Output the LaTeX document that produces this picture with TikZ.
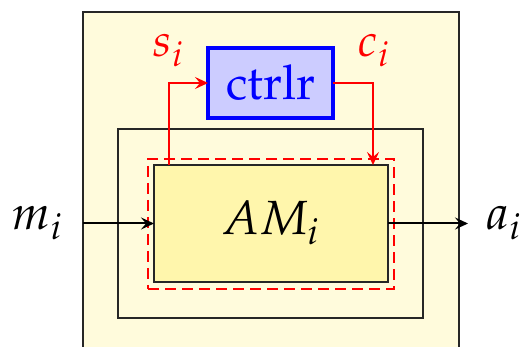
\documentclass[tikz,border=0pt]{standalone}
\usepackage[T1]{fontenc}
\usepackage{mathpazo}
\usetikzlibrary{arrows.meta}
\definecolor{outerfill}{HTML}{FFFBDC}
\definecolor{amfill}{HTML}{FFF6AC}
\definecolor{ctrlfill}{HTML}{CCCCFF}
\tikzset{
  box/.style={draw=black!85, line width=2pt, rectangle, inner sep=0pt, outer sep=0pt},
  bigtext/.style={font=\fontsize{48}{56}\selectfont, inner sep=0pt, anchor=base},
  smalltext/.style={font=\fontsize{46}{52}\selectfont, inner sep=0pt, anchor=base, text=red},
  blackarrow/.style={line width=2pt, -{Stealth[length=13pt,width=12pt,inset=5pt]}},
  redarrow/.style={draw=red, line width=2pt, -{Stealth[length=13pt,width=12pt,inset=5pt]}},
}
\begin{document}
\begin{tikzpicture}[x=1pt,y=-1pt]
\clip (0,0) rectangle (523,347);
\fill[white] (0,0) rectangle (523,347);
\node[box, fill=outerfill, minimum width=376pt, minimum height=358pt] (outer) at (271,191) {};
\node[box, fill=outerfill, minimum width=305pt, minimum height=189pt] (mid) at (270.5,223.5) {};
\node[rectangle, draw=red, line width=1.8pt, dash pattern=on 11pt off 6pt, inner sep=0pt, outer sep=0pt, minimum width=246pt, minimum height=130pt] (dbox) at (271,224) {};
\node[box, fill=amfill, minimum width=234pt, minimum height=117pt] (am) at (271,223.5) {};
\node[box, draw=blue, line width=3.5pt, fill=ctrlfill, minimum width=125pt, minimum height=70pt] (ctrl) at (270.5,83) {};
\node[bigtext, text=blue] (ctrltext) at (271,100) {$\mathrm{ctrlr}$};
\node[bigtext] (amtext) at (270,235) {$AM_i$};
\node[bigtext, anchor=base west] (m) at (12,230) {$m_i$};
\node[bigtext, anchor=base west] (a) at (486,230) {$a_i$};
\node[smalltext, anchor=base west] (s) at (153,57) {$s_i$};
\node[smalltext, anchor=base west] (c) at (358,57) {$c_i$};
\coordinate (min) at (83,223.5);
\coordinate (aout) at (468,223.5);
\coordinate (s0) at (169,165);
\coordinate (c0) at (373,165);
\draw[blackarrow] (min) -- (am.west);
\draw[blackarrow] (am.east) -- (aout);
\draw[redarrow] (s0) |- (ctrl.west);
\draw[redarrow] (ctrl.east) -| (c0);
\end{tikzpicture}
\end{document}
